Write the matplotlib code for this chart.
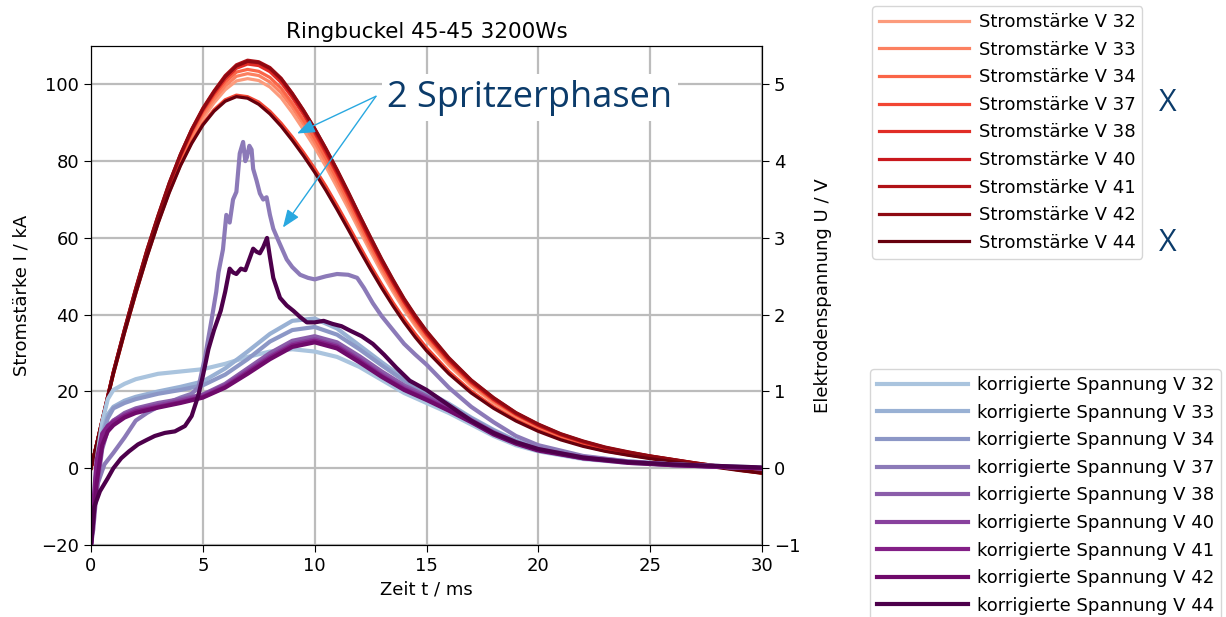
import numpy as np
import matplotlib
matplotlib.use("Agg")
import matplotlib.pyplot as plt

# ---------------------------------------------------------------- data
trials = ["V 32", "V 33", "V 34", "V 37", "V 38", "V 40", "V 41", "V 42", "V 44"]

# welding current (kA) over time (ms)
t_current = [0, 0.5, 1, 1.5, 2, 2.5, 3, 3.5, 4, 4.5, 5, 5.5, 6, 6.5, 7, 7.5, 8, 8.5,
             9, 9.5, 10, 10.5, 11, 11.5, 12, 12.5, 13, 13.5, 14, 14.5, 15, 16, 17,
             18, 19, 20, 21, 22, 23, 24, 25, 26, 27, 28, 29, 30]

current_v32 = [0, 12.2, 24.4, 35.2, 45.4, 55.2, 64, 72.3, 79.6, 85.8, 91, 95.2, 98.6, 100.9,
               101.5, 101, 99.3, 96.5, 92.6, 88.2, 83.6, 78.6, 73.2, 67.7, 62, 56.4, 51, 46,
               41.3, 37.1, 33.3, 26.8, 21.4, 17, 13.4, 10.6, 8.3, 6.5, 5, 3.9, 2.9, 2.1, 1.2,
               0.4, -0.5, -1.3]
current_v33 = [0, 12.3, 24.6, 35.5, 45.8, 55.6, 64.5, 72.9, 80.3, 86.6, 91.9, 96.1, 99.6, 102.1,
               102.8, 102.3, 100.6, 97.8, 94, 89.6, 84.9, 79.8, 74.4, 68.8, 63, 57.3, 51.9,
               46.8, 42, 37.7, 33.9, 27.3, 21.8, 17.3, 13.7, 10.8, 8.5, 6.6, 5.1, 4, 3, 2.1,
               1.2, 0.4, -0.5, -1.3]
current_v34 = [0, 12.4, 24.8, 35.7, 46.1, 56, 64.9, 73.4, 80.9, 87.3, 92.7, 97, 100.6, 103.2,
               103.9, 103.4, 101.8, 99, 95.1, 90.7, 86, 80.9, 75.5, 69.8, 63.9, 58.1, 52.6,
               47.5, 42.6, 38.3, 34.4, 27.7, 22.1, 17.6, 13.9, 11, 8.6, 6.7, 5.2, 4, 3, 2.1,
               1.2, 0.4, -0.4, -1.2]
current_v37 = [0, 12.3, 24.6, 35.4, 45.6, 55.2, 64, 72, 79, 84.9, 89.7, 93.4, 96, 97.2, 96.8,
               95.4, 93, 89.9, 86.3, 82.3, 78.1, 73.5, 68.5, 63.3, 58, 52.8, 47.9, 43.2, 38.9,
               35, 31.4, 25.2, 20.1, 16, 12.6, 9.9, 7.6, 5.9, 4.5, 3.5, 2.6, 1.8, 1, 0.3,
               -0.5, -1.2]
current_v38 = [0, 12.5, 24.9, 35.9, 46.4, 56.3, 65.3, 73.8, 81.3, 87.8, 93.2, 97.6, 101.4,
               104.2, 105.3, 104.9, 103.3, 100.5, 96.6, 92.2, 87.4, 82.2, 76.7, 70.9, 64.9,
               59.1, 53.5, 48.3, 43.3, 38.9, 34.9, 28.1, 22.4, 17.9, 14.1, 11.1, 8.7, 6.8,
               5.3, 4.1, 3.1, 2.2, 1.3, 0.5, -0.4, -1.2]
current_v40 = [0, 12.5, 25, 36, 46.5, 56.5, 65.5, 74, 81.5, 88, 93.5, 98, 102, 104.8, 106,
               105.6, 104, 101.2, 97.2, 92.8, 88, 82.8, 77.2, 71.4, 65.4, 59.5, 53.8, 48.6,
               43.6, 39.2, 35.2, 28.3, 22.6, 18, 14.2, 11.2, 8.8, 6.9, 5.3, 4.1, 3.1, 2.2,
               1.3, 0.5, -0.4, -1.2]
current_v41 = [0, 12.6, 25.1, 36.2, 46.8, 56.8, 65.8, 74.3, 81.8, 88.3, 93.8, 98.3, 102.3,
               105.1, 106.3, 105.9, 104.4, 101.6, 97.7, 93.3, 88.5, 83.3, 77.7, 71.9, 65.9,
               60, 54.3, 49, 44, 39.6, 35.6, 28.6, 22.9, 18.3, 14.4, 11.4, 8.9, 7, 5.4, 4.2,
               3.2, 2.3, 1.4, 0.6, -0.3, -1.1]
current_v42 = [0, 12.6, 25.2, 36.3, 46.9, 56.9, 65.9, 74.4, 81.8, 88.2, 93.6, 98.1, 102,
               104.8, 106, 105.7, 104.2, 101.5, 97.6, 93.2, 88.5, 83.3, 77.8, 72, 66, 60.2,
               54.5, 49.2, 44.2, 39.8, 35.8, 28.8, 23, 18.4, 14.5, 11.5, 9, 7.1, 5.5, 4.3,
               3.2, 2.3, 1.4, 0.6, -0.3, -1.1]
current_v44 = [0, 12.3, 24.5, 35.3, 45.5, 55, 63.8, 71.8, 78.8, 84.6, 89.4, 93, 95.6, 96.8,
               96.4, 94.8, 92.3, 89.1, 85.4, 81.4, 77.1, 72.4, 67.4, 62.2, 56.9, 51.8, 46.9,
               42.3, 38, 34.1, 30.6, 24.6, 19.6, 15.6, 12.3, 9.6, 7.4, 5.7, 4.4, 3.4, 2.5,
               1.7, 0.9, 0.2, -0.6, -1.3]

# corrected electrode voltage (V) over time (ms)
t_voltage = [0, 0.1, 0.25, 0.5, 0.75, 1, 1.5, 2, 3, 4, 5, 6, 7, 8, 9, 10, 11, 12, 13, 14,
             15, 16, 17, 18, 19, 20, 22, 24, 26, 28, 30]

voltage_v32 = [-1.0, -0.5, 0.1, 0.6, 0.9, 1.02, 1.1, 1.16, 1.23, 1.26, 1.29, 1.36, 1.45,
               1.52, 1.55, 1.52, 1.45, 1.32, 1.15, 0.98, 0.85, 0.72, 0.57, 0.42, 0.3, 0.22,
               0.12, 0.07, 0.04, 0.02, 0.0]
voltage_v33 = [-1.0, -0.6, 0.0, 0.45, 0.7, 0.8, 0.88, 0.93, 1.0, 1.06, 1.13, 1.3, 1.52,
               1.75, 1.92, 1.95, 1.82, 1.6, 1.38, 1.17, 1.0, 0.84, 0.66, 0.5, 0.36, 0.26,
               0.15, 0.09, 0.05, 0.03, 0.01]
voltage_v34 = [-1.0, -0.7, -0.1, 0.4, 0.65, 0.78, 0.85, 0.9, 0.97, 1.02, 1.08, 1.22, 1.42,
               1.65, 1.8, 1.84, 1.74, 1.55, 1.34, 1.14, 0.98, 0.82, 0.65, 0.49, 0.35, 0.25,
               0.14, 0.08, 0.05, 0.02, 0.0]
voltage_v38 = [-1.0, -0.8, -0.3, 0.25, 0.5, 0.62, 0.72, 0.78, 0.85, 0.9, 0.96, 1.1, 1.3,
               1.5, 1.66, 1.72, 1.64, 1.46, 1.26, 1.08, 0.94, 0.79, 0.63, 0.47, 0.34, 0.25,
               0.14, 0.08, 0.05, 0.02, 0.0]
voltage_v40 = [-1.0, -0.6, 0.0, 0.4, 0.55, 0.62, 0.7, 0.76, 0.82, 0.88, 0.95, 1.08, 1.27,
               1.46, 1.62, 1.68, 1.6, 1.42, 1.22, 1.05, 0.92, 0.78, 0.62, 0.46, 0.33, 0.24,
               0.14, 0.08, 0.05, 0.02, 0.0]
voltage_v41 = [-1.0, -0.5, 0.1, 0.45, 0.55, 0.6, 0.68, 0.74, 0.8, 0.86, 0.93, 1.06, 1.25,
               1.44, 1.6, 1.66, 1.58, 1.4, 1.2, 1.03, 0.9, 0.76, 0.61, 0.45, 0.33, 0.24,
               0.13, 0.08, 0.04, 0.02, 0.0]
voltage_v42 = [-1.0, -0.7, -0.2, 0.3, 0.48, 0.56, 0.66, 0.72, 0.79, 0.85, 0.92, 1.05, 1.23,
               1.42, 1.58, 1.64, 1.56, 1.38, 1.19, 1.02, 0.89, 0.75, 0.6, 0.44, 0.32, 0.23,
               0.13, 0.07, 0.04, 0.02, 0.0]

# trials with spatter events need a finer time base
t_voltage_v37 = [0, 0.1, 0.3, 0.6, 1.0, 1.5, 2, 2.5, 3, 3.5, 4, 4.5, 4.8, 5.1, 5.4, 5.6,
                 5.7, 5.9, 6.05, 6.2, 6.35, 6.5, 6.65, 6.8, 6.9, 6.97, 7.08, 7.18, 7.25,
                 7.4, 7.55, 7.7, 7.85, 8.0, 8.15, 8.4, 8.75, 9.0, 9.35, 9.7, 10, 10.5, 11,
                 11.5, 11.9, 12.2, 12.6, 13, 13.5, 14, 14.5, 15, 16, 17, 18, 19, 20, 22,
                 24, 26, 28, 30]
voltage_v37 = [-1.0, -0.6, -0.2, 0.05, 0.2, 0.4, 0.62, 0.72, 0.8, 0.86, 0.92, 0.97, 1.05,
               1.45, 1.95, 2.3, 2.55, 2.85, 3.3, 3.2, 3.5, 3.6, 4.1, 4.25, 4.0, 4.05, 4.2,
               4.15, 3.9, 3.75, 3.58, 3.5, 3.53, 3.3, 3.12, 2.95, 2.72, 2.62, 2.52, 2.48,
               2.46, 2.5, 2.53, 2.52, 2.48, 2.35, 2.15, 1.98, 1.8, 1.62, 1.48, 1.35, 1.05,
               0.8, 0.6, 0.42, 0.3, 0.16, 0.09, 0.05, 0.03, 0.0]

t_voltage_v44 = [0, 0.15, 0.4, 0.75, 1.0, 1.35, 1.7, 2.1, 2.5, 2.85, 3.3, 3.75, 4.2, 4.5,
                 4.8, 5.0, 5.25, 5.5, 5.8, 6.0, 6.2, 6.35, 6.5, 6.7, 6.9, 7.05, 7.25, 7.4,
                 7.55, 7.7, 7.87, 8.0, 8.15, 8.3, 8.45, 8.75, 9.05, 9.35, 9.65, 10, 10.4,
                 10.8, 11.2, 11.6, 12.1, 12.6, 13.1, 13.65, 14.25, 15, 16, 17, 18, 19, 20,
                 22, 24, 26, 28, 30]
voltage_v44 = [-1.0, -0.5, -0.3, -0.13, 0.0, 0.13, 0.22, 0.31, 0.37, 0.42, 0.46, 0.48, 0.55,
               0.68, 0.95, 1.2, 1.55, 1.8, 2.05, 2.3, 2.6, 2.55, 2.53, 2.6, 2.58, 2.7, 2.86,
               2.82, 2.8, 2.88, 3.0, 2.75, 2.48, 2.35, 2.22, 2.12, 2.05, 1.97, 1.9, 1.9,
               1.92, 1.88, 1.85, 1.79, 1.72, 1.62, 1.48, 1.31, 1.14, 1.02, 0.82, 0.62, 0.46,
               0.34, 0.25, 0.14, 0.08, 0.05, 0.03, 0.01]

currents = [current_v32, current_v33, current_v34, current_v37, current_v38,
            current_v40, current_v41, current_v42, current_v44]
voltages = [(t_voltage, voltage_v32), (t_voltage, voltage_v33), (t_voltage, voltage_v34),
            (t_voltage_v37, voltage_v37), (t_voltage, voltage_v38), (t_voltage, voltage_v40),
            (t_voltage, voltage_v41), (t_voltage, voltage_v42), (t_voltage_v44, voltage_v44)]

# ---------------------------------------------------------------- figure
W, H = 1226, 617
fig = plt.figure(figsize=(W / 100, H / 100), dpi=100)
plt.rcParams["font.family"] = ["DejaVu Sans"]
FS = 13

ax1 = fig.add_axes([91 / W, 1 - 545 / H, (762 - 91) / W, (545 - 46) / H])
ax2 = ax1.twinx()

red_cols = plt.get_cmap("Reds")(np.linspace(0.35, 1.0, len(trials)))
pur_cols = plt.get_cmap("BuPu")(np.linspace(0.33, 1.0, len(trials)))

for name, vals, col in zip(trials, currents, red_cols):
    ax1.plot(t_current, vals, color=col, lw=2.3, label=f"Stromstärke {name}")

for name, (tt, vv), col in zip(trials, voltages, pur_cols):
    ax2.plot(tt, vv, color=col, lw=3.0, label=f"korrigierte Spannung {name}")

ax1.set_xlim(0, 30)
ax1.set_ylim(-20, 110)
ax2.set_ylim(-1, 5.5)
ax1.set_xticks([0, 5, 10, 15, 20, 25, 30])
ax1.set_yticks([-20, 0, 20, 40, 60, 80, 100])
ax2.set_yticks([-1, 0, 1, 2, 3, 4, 5])
ax1.grid(True, color="#bcbcbc", lw=1.6)
ax1.set_axisbelow(True)
for ax in (ax1, ax2):
    ax.tick_params(labelsize=FS, length=5)

ax1.set_xlabel("Zeit t / ms", fontsize=FS)
ax1.set_ylabel("Stromstärke I / kA", fontsize=FS, labelpad=8)
ax2.set_ylabel("Elektrodenspannung U / V", fontsize=FS, labelpad=10)
ax1.set_title("Ringbuckel 45-45 3200Ws", fontsize=15.5, pad=6)

# annotation of the two spatter phases
ann_col = "#0b3b6a"
arrow_col = "#29a8e0"
ax1.text(13.25, 96.5, "2 Spritzerphasen", fontsize=26, color=ann_col,
         family="Open Sans", ha="left", va="center", zorder=10,
         bbox=dict(boxstyle="square,pad=0.15", fc="white", ec="none"))
arrow_style = dict(arrowstyle="-|>,head_length=0.9,head_width=0.35",
                   mutation_scale=12, color=arrow_col, lw=1.0,
                   shrinkA=0, shrinkB=0)
for head in [(9.21, 87.2), (8.58, 62.7)]:
    ax1.annotate("", xy=head, xytext=(12.74, 96.9), zorder=11,
                 arrowprops=arrow_style)

# legends outside the axes
h1, l1 = ax1.get_legend_handles_labels()
h2, l2 = ax2.get_legend_handles_labels()
fig.legend(h1, l1, loc="upper left", bbox_to_anchor=(872 / W, 1 - 6 / H),
           borderaxespad=0, fontsize=FS, handlelength=5.0, handletextpad=0.5,
           labelspacing=0.53)
fig.legend(h2, l2, loc="upper left", bbox_to_anchor=(870 / W, 1 - 369 / H),
           borderaxespad=0, fontsize=FS, handlelength=5.0, handletextpad=0.5,
           labelspacing=0.53)

for yy in (103, 243):
    fig.text(1168 / W, 1 - yy / H, "X", fontsize=22, color=ann_col,
             family="Open Sans", ha="center", va="center")

fig.savefig("out.png", dpi=100)
